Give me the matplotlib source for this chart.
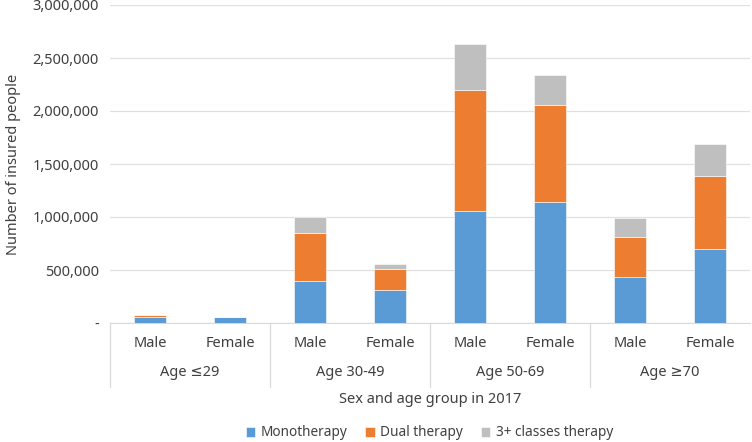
import numpy as np
import matplotlib.pyplot as plt
from matplotlib.ticker import FuncFormatter

plt.rcParams['font.family'] = ['Noto Sans', 'DejaVu Sans']

sexes = ['Male', 'Female'] * 4
age_groups = ['Age \u226429', 'Age 30-49', 'Age 50-69', 'Age \u226570']
mono = [53000, 55000, 396000, 310000, 1060000, 1140000, 430000, 700000]
dual = [19000, 2000, 453000, 200000, 1138000, 917000, 380000, 685000]
triple = [2000, 1000, 151000, 50000, 430000, 283000, 180000, 305000]
series_names = ['Monotherapy', 'Dual therapy', '3+ classes therapy']
colors = ['#5B9BD5', '#ED7D31', '#BFBFBF']

fig = plt.figure(figsize=(7.52, 4.42), dpi=100)
ax = fig.add_axes([110 / 752, 1 - 323 / 442, 640 / 752, 318 / 442])

x = np.arange(len(sexes))
bottom = np.zeros(len(x))
for vals, name, c in zip([mono, dual, triple], series_names, colors):
    ax.bar(x, vals, width=0.39, bottom=bottom, color=c, label=name,
           edgecolor='white', linewidth=0.4, zorder=3)
    bottom += np.array(vals)

ax.set_xlim(-0.5, len(x) - 0.5)
ax.set_ylim(0, 3000000)
ax.set_yticks(np.arange(0, 3000001, 500000))
ax.yaxis.set_major_formatter(FuncFormatter(lambda v, p: '-' if v == 0 else f'{int(v):,}'))
ax.grid(axis='y', color='#E0E0E0', linewidth=0.9, zorder=0)
for s in ['top', 'right', 'left']:
    ax.spines[s].set_visible(False)
ax.spines['bottom'].set_color('#D9D9D9')
ax.tick_params(axis='y', length=0, labelsize=10.5, colors='#404040', pad=8)
ax.tick_params(axis='x', length=0)
ax.set_xticks([])
ax.set_ylabel('Number of insured people', fontsize=10.5, color='#404040', labelpad=8)

# two-level category axis
trans = ax.get_xaxis_transform()
for xi, s in zip(x, sexes):
    ax.text(xi, -0.063, s, transform=trans, ha='center', va='center',
            fontsize=10.5, color='#404040')
for i, g in enumerate(age_groups):
    ax.text(2 * i + 0.5, -0.155, g, transform=trans, ha='center', va='center',
            fontsize=10.5, color='#404040')
for xs in [-0.5, 1.5, 3.5, 5.5]:
    ax.plot([xs, xs], [0, -0.2], transform=trans, color='#D9D9D9',
            linewidth=0.9, clip_on=False)

ax.text(0.5, -0.24, 'Sex and age group in 2017', transform=ax.transAxes,
        ha='center', va='center', fontsize=10.5, color='#404040')

fig.legend(loc='center', bbox_to_anchor=(0.571, 1 - 433 / 442), ncol=3, frameon=False,
           fontsize=9.8, handlelength=0.7, handleheight=0.7, columnspacing=1.3,
           handletextpad=0.4, labelcolor='#404040')

fig.savefig('out.png', dpi=100)
